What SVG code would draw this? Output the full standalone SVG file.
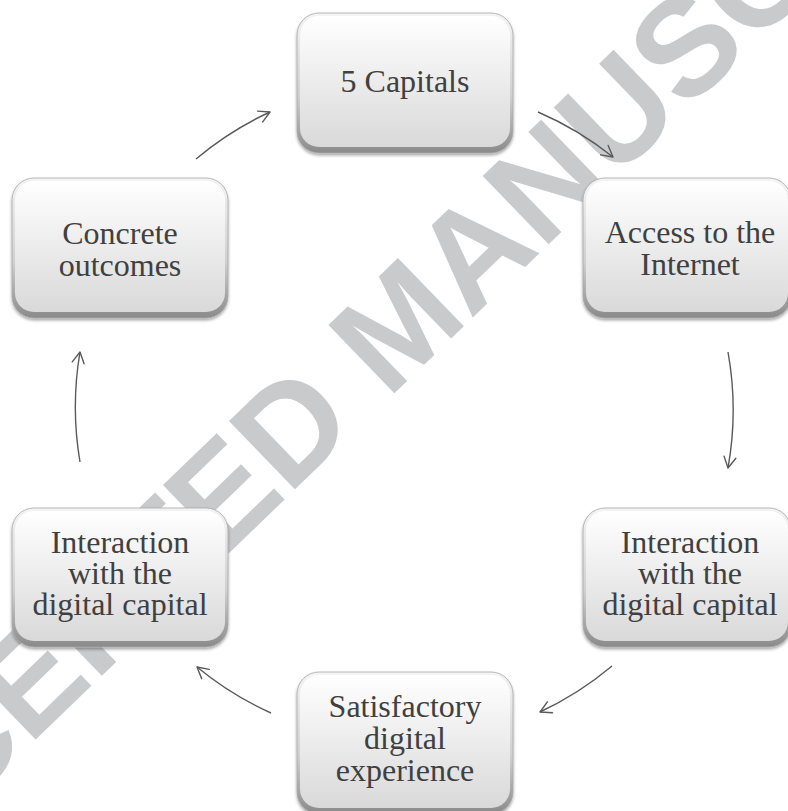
<svg xmlns="http://www.w3.org/2000/svg" width="788" height="811" viewBox="0 0 788 811">
<defs>
<linearGradient id="edge" x1="0" y1="0" x2="0" y2="1">
<stop offset="0" stop-color="#f4f4f4"/>
<stop offset="0.6" stop-color="#cfcfcf"/>
<stop offset="1" stop-color="#8a8a8a"/>
</linearGradient>
<linearGradient id="face" x1="0" y1="0" x2="0" y2="1">
<stop offset="0" stop-color="#ffffff"/>
<stop offset="1" stop-color="#d9d9d9"/>
</linearGradient>
<filter id="sh" x="-10%" y="-10%" width="120%" height="125%">
<feDropShadow dx="0" dy="2" stdDeviation="1.6" flood-color="#000" flood-opacity="0.35"/>
</filter>
<marker id="ah" markerUnits="userSpaceOnUse" markerWidth="14" markerHeight="14" refX="11" refY="6" orient="auto" overflow="visible">
<path d="M0,0 L11,6 L0,12" fill="none" stroke="#5a5a5a" stroke-width="1.4" stroke-linecap="round" stroke-linejoin="round"/>
</marker>
</defs>
<style>
.outer{fill:url(#edge);stroke:#a8a8a8;stroke-width:0.8;filter:url(#sh)}
.inner{fill:url(#face)}
.lbl{font-size:32px;fill:#404040;text-anchor:middle}
.wm{font-weight:bold;font-size:138px;fill:#c9cacc}
.conn path{fill:none;stroke:#5a5a5a;stroke-width:1.4;marker-end:url(#ah)}
</style>
<rect width="788" height="811" fill="#ffffff"/>
<g id="watermark">
<text class="wm" font-family="Liberation Sans, Arial, sans-serif" transform="translate(290,426) rotate(-44)" x="-709" y="49">ACCEPTED MANUSCRIPT</text>
</g>
<g id="connectors" class="conn">
<path d="M538,112 A328,328 0 0 1 613,157"/>
<path d="M728,352 A328,328 0 0 1 728,468"/>
<path d="M612,666 A328,328 0 0 1 540,712"/>
<path d="M271,713 A328,328 0 0 1 197,667"/>
<path d="M80,462 A328,328 0 0 1 80,352"/>
<path d="M196,159 A328,328 0 0 1 270,112"/>
</g>
<g font-family="Liberation Serif, DejaVu Serif, serif">
<g id="n-capitals">
<rect class="outer" x="297" y="13" width="216" height="140" rx="22"/>
<rect class="inner" x="300" y="16" width="210" height="131" rx="19"/>
<text class="lbl" x="405" y="92">5 Capitals</text>
</g>
<g id="n-access">
<rect class="outer" x="583" y="178" width="208" height="140" rx="22"/>
<rect class="inner" x="586" y="181" width="202" height="131" rx="19"/>
<text class="lbl" x="690" y="243">Access to the</text>
<text class="lbl" x="690" y="275">Internet</text>
</g>
<g id="n-interaction-right">
<rect class="outer" x="583" y="508" width="208" height="139" rx="22"/>
<rect class="inner" x="586" y="511" width="202" height="130" rx="19"/>
<text class="lbl" x="690" y="553">Interaction</text>
<text class="lbl" x="690" y="584">with the</text>
<text class="lbl" x="690" y="615">digital capital</text>
</g>
<g id="n-satisfactory">
<rect class="outer" x="297" y="672" width="216" height="142" rx="22"/>
<rect class="inner" x="300" y="675" width="210" height="133" rx="19"/>
<text class="lbl" x="405" y="717">Satisfactory</text>
<text class="lbl" x="405" y="749">digital</text>
<text class="lbl" x="405" y="781">experience</text>
</g>
<g id="n-interaction-left">
<rect class="outer" x="12" y="508" width="216" height="139" rx="22"/>
<rect class="inner" x="15" y="511" width="210" height="130" rx="19"/>
<text class="lbl" x="120" y="553">Interaction</text>
<text class="lbl" x="120" y="584">with the</text>
<text class="lbl" x="120" y="615">digital capital</text>
</g>
<g id="n-concrete">
<rect class="outer" x="12" y="178" width="216" height="140" rx="22"/>
<rect class="inner" x="15" y="181" width="210" height="131" rx="19"/>
<text class="lbl" x="120" y="244">Concrete</text>
<text class="lbl" x="120" y="276">outcomes</text>
</g>
</g>
</svg>
